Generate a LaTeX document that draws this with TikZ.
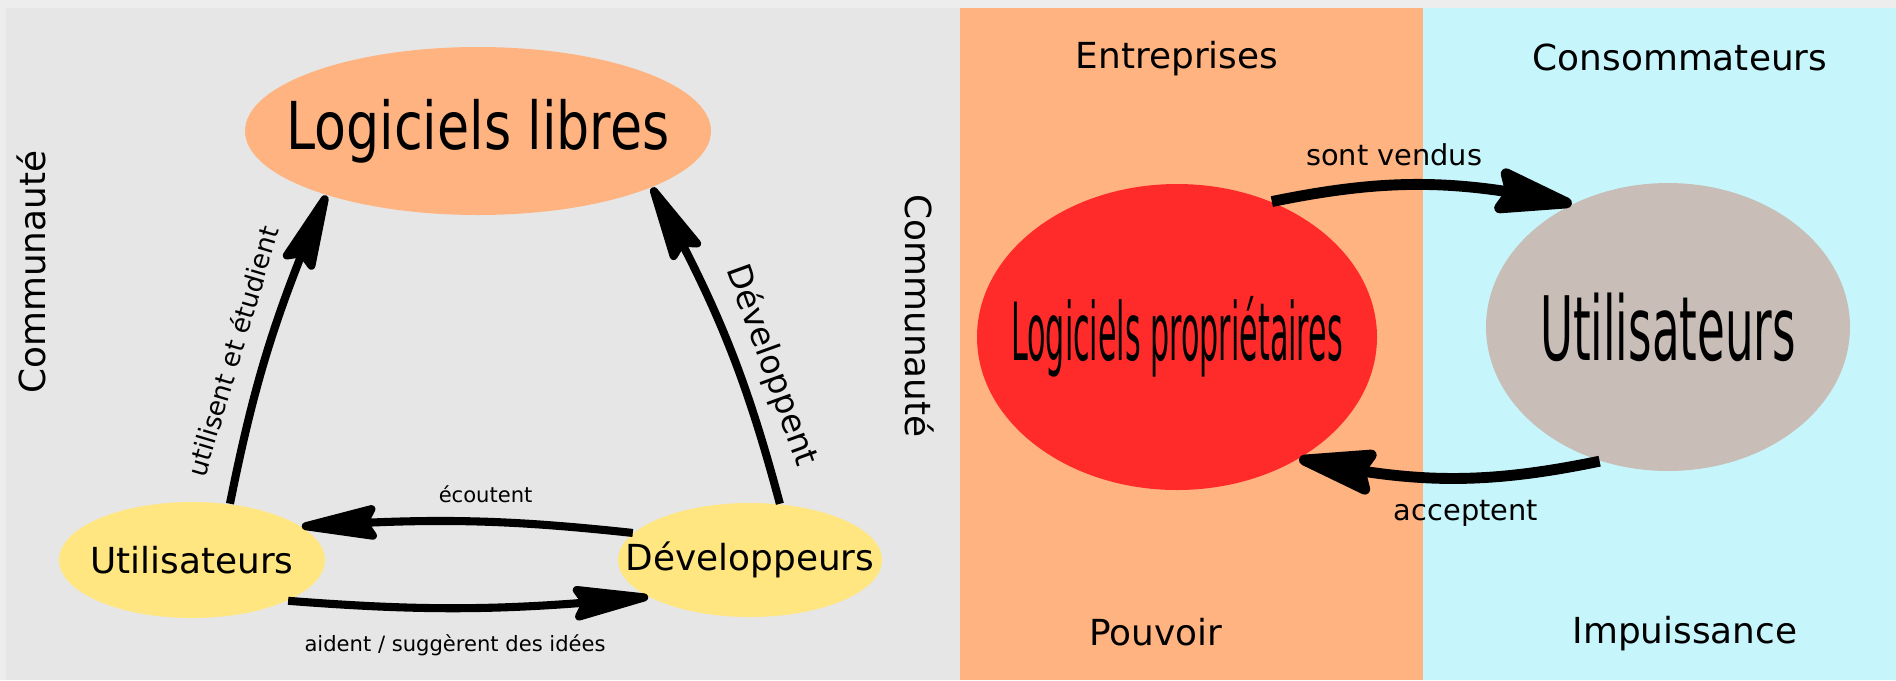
\documentclass[tikz,border=0pt]{standalone}
\usepackage{fontspec}
\setmainfont{DejaVu Sans}
\usepackage{graphicx}
\usetikzlibrary{shapes.geometric,arrows.meta,bending}
\definecolor{marge}{HTML}{EDEDED}
\definecolor{fond}{HTML}{E6E6E6}
\definecolor{saumon}{HTML}{FFB380}
\definecolor{ciel}{HTML}{C6F6FC}
\definecolor{rouge}{HTML}{FF2A2A}
\definecolor{taupe}{HTML}{C8BEB7}
\definecolor{jaune}{HTML}{FFE680}

\begin{document}
\begin{tikzpicture}[
    bulle/.style={ellipse,inner sep=0pt},
    petit/.style={font=\fontsize{10.2}{12}\selectfont},
    moyen/.style={font=\fontsize{8.2}{10}\selectfont},
    menu/.style={font=\fontsize{6}{7}\selectfont},
    fleche/.style={line width=2.3pt,-{Stealth[length=27pt,width=10.5pt,inset=3pt,round]}},
    grosse/.style={line width=3.1pt,-{Stealth[length=27pt,width=14pt,inset=3pt,round]}}
  ]
  \useasboundingbox (0,0) rectangle (18.96,6.80);
  % fonds
  \fill[marge] (0,0) rectangle (18.96,6.80);
  \fill[fond] (0.06,0) rectangle (9.60,6.72);
  \fill[saumon] (9.60,0) rectangle (14.23,6.72);
  \fill[ciel] (14.23,0) rectangle (18.96,6.72);
  % logiciels libres
  \node[bulle,fill=saumon,minimum width=4.66cm,minimum height=1.68cm] (libres) at (4.78,5.49) {};
  \node[font=\fontsize{18.8}{22}\selectfont] (libres-t) at (libres) {\scalebox{0.79}[1]{Logiciels libres}};
  \node[bulle,fill=jaune,minimum width=2.66cm,minimum height=1.16cm] (uti) at (1.92,1.20) {};
  \node[petit] (uti-t) at (uti) {Utilisateurs};
  \node[bulle,fill=jaune,minimum width=2.64cm,minimum height=1.14cm] (dev) at (7.50,1.20) {};
  \node[petit] (dev-t) at (dev) {Développeurs};
  \node[petit,rotate=90] (comm-g) at (0.31,4.08) {Communauté};
  \node[petit,rotate=-90] (comm-d) at (9.20,3.64) {Communauté};
  \draw[fleche] (uti.56) to[bend left=6]
    node[pos=.45,sloped,above=2pt,font=\fontsize{7.5}{9}\selectfont] (l-etud) {utilisent et étudient} (libres.203);
  \draw[fleche] (dev.62) to[bend right=7]
    node[pos=.38,sloped,above,font=\fontsize{9.4}{11}\selectfont] (l-dev) {Développent} (libres.342);
  \draw[fleche] (dev.167) to[bend right=5] node[pos=.44,above=1pt,menu] (l-ecou) {écoutent} (uti.17);
  \draw[fleche] (uti.337) to[bend right=5] node[pos=.46,below=3pt,menu] (l-aide) {aident / suggèrent des idées} (dev.200);
  % logiciels proprietaires
  \node[petit,anchor=base] (entr) at (11.77,6.12) {Entreprises};
  \node[petit,anchor=base] (conso) at (16.80,6.10) {Consommateurs};
  \node[petit,anchor=base] (pouv) at (11.56,0.35) {Pouvoir};
  \node[petit,anchor=base] (impu) at (16.85,0.37) {Impuissance};
  \node[bulle,fill=rouge,minimum width=4cm,minimum height=3.06cm] (prop) at (11.77,3.43) {};
  \node[font=\fontsize{22.8}{27}\selectfont] (prop-t) at (prop) {\scalebox{0.376}[1]{Logiciels propriétaires}};
  \node[bulle,fill=taupe,minimum width=3.64cm,minimum height=2.88cm] (cons) at (16.68,3.53) {};
  \node[font=\fontsize{25.3}{30}\selectfont] (cons-t) at (cons) {\scalebox{0.508}[1]{Utilisateurs}};
  \draw[grosse] (prop.55) to[bend left=12] node[pos=.40,above=0.5pt,moyen] (l-vend) {sont vendus} (cons.128);
  \draw[grosse] (cons.243) to[bend left=12] node[pos=.44,below=1.5pt,moyen] (l-acc) {acceptent} (prop.315);
\end{tikzpicture}
\end{document}
